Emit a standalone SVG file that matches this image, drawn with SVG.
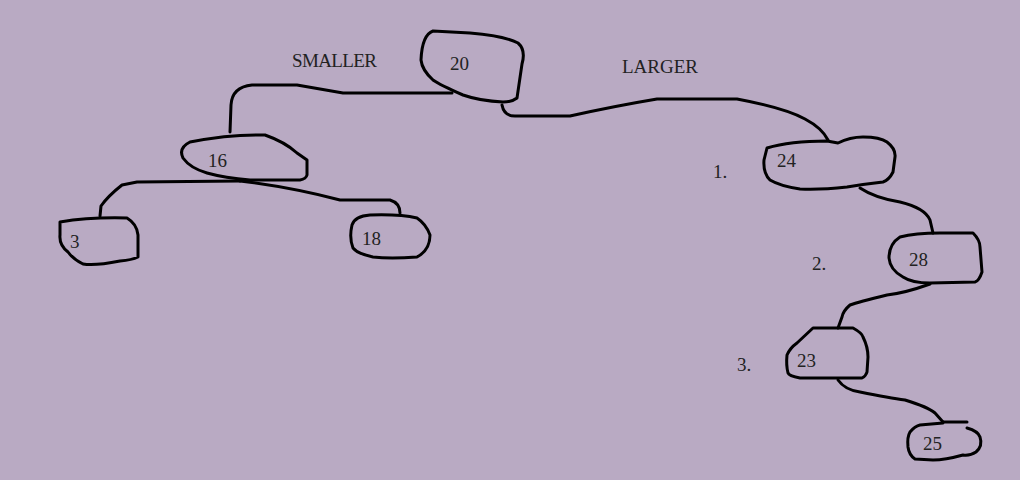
<svg xmlns="http://www.w3.org/2000/svg" width="1020" height="480" viewBox="0 0 1020 480">
<style>
.ln{fill:none;stroke:#000;stroke-width:3;stroke-linecap:round;stroke-linejoin:round}
.t{font-family:"Liberation Serif","DejaVu Serif",serif;font-size:19px;fill:#222}
</style>
<rect width="1020" height="480" fill="#B9AAC3"/>
<g id="connectors">
<path class="ln" d="M452,93 L343,93 Q320,89 297,85 L252,85 Q232,87 231,105 L230,132"/>
<path class="ln" d="M240,181 L137,182 L122,185 Q108,196 101,206 L100,216"/>
<path class="ln" d="M240,181 Q290,187 340,200 L390,200 Q400,203 400,213"/>
<path class="ln" d="M502,105 Q504,116 515,116 L570,116 Q615,106 657,99 L737,99 Q785,108 805,119 Q822,128 828,140"/>
<path class="ln" d="M860,188 Q875,198 900,202 Q925,208 930,220 L933,233"/>
<path class="ln" d="M930,284 Q905,293 887,295 Q858,302 850,305 Q843,311 842,317 L838,328"/>
<path class="ln" d="M838,380 Q845,390 860,392 Q890,398 905,400 Q928,407 935,413 L943,422"/>
</g>
<g id="node-20">
<path class="ln" d="M433,31 L470,33 Q505,36 518,43 Q526,50 522,64 L517,98 Q512,102 503,102 Q480,101 463,95 Q440,85 433,80 Q422,70 421,60 Q422,35 433,31 Z"/>
<text class="t" x="450" y="70">20</text>
</g>
<g id="node-16">
<path class="ln" d="M190,142 Q230,134 265,135 Q285,142 297,153 L307,160 L307,175 Q306,179 300,180 L250,180 Q225,178 207,173 Q190,168 183,158 Q178,148 190,142 Z"/>
<text class="t" x="208" y="167">16</text>
</g>
<g id="node-3">
<path class="ln" d="M60,222 Q90,217 127,218 Q137,224 138,235 L138,257 Q132,260 120,261 Q95,266 83,264 Q73,259 68,252 Q59,245 60,235 Z"/>
<text class="t" x="70" y="248">3</text>
</g>
<g id="node-18">
<path class="ln" d="M352,225 Q355,216 370,215 Q400,214 417,218 Q426,224 430,235 Q430,250 417,257 Q390,259 373,257 Q358,254 353,248 Q349,238 352,225 Z"/>
<text class="t" x="362" y="245">18</text>
</g>
<g id="node-24">
<path class="ln" d="M767,148 Q790,141 827,141 L838,143 Q850,137 863,137 Q880,137 887,142 Q896,149 895,157 L893,172 Q889,180 883,182 Q865,184 847,187 Q820,190 800,189 Q780,186 770,180 Q763,173 764,160 Z"/>
<text class="t" x="777" y="167">24</text>
</g>
<g id="node-28">
<path class="ln" d="M900,237 Q915,233 940,233 L973,233 Q980,240 980,247 L982,272 Q979,281 975,282 L930,283 Q912,283 903,277 Q890,270 889,258 Q889,244 900,237 Z"/>
<text class="t" x="909" y="266">28</text>
</g>
<g id="node-23">
<path class="ln" d="M813,328 L853,328 Q862,333 863,337 Q868,347 868,357 L867,372 Q866,376 862,378 L800,378 Q789,376 788,373 Q786,365 787,355 Q790,348 797,343 Z"/>
<text class="t" x="797" y="367">23</text>
</g>
<g id="node-25">
<path class="ln" d="M943,422 L967,422 M967,428 Q978,431 980,437 Q983,446 976,452 Q970,456 963,455 Q945,460 933,460 L915,459 Q909,455 908,447 Q907,437 910,432 Q915,426 920,425 L943,423"/>
<text class="t" x="923" y="450">25</text>
</g>
<g id="labels">
<text class="t" x="292" y="67" textLength="85">SMALLER</text>
<text class="t" x="622" y="73" textLength="76">LARGER</text>
<text class="t" x="713" y="178">1.</text>
<text class="t" x="812" y="270">2.</text>
<text class="t" x="737" y="371">3.</text>
</g>
</svg>
